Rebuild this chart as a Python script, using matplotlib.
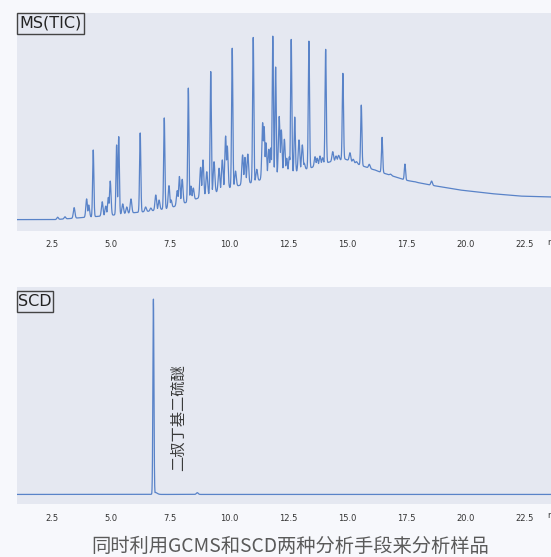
import numpy as np
import matplotlib.pyplot as plt
from matplotlib.patches import Rectangle

plt.rcParams['font.family'] = ['DejaVu Sans', 'Noto Sans CJK SC']

# retention time axis (min)
T_MIN, T_MAX = 1.0, 23.63
xticks = [2.5, 5.0, 7.5, 10.0, 12.5, 15.0, 17.5, 20.0, 22.5]

# MS(TIC) baseline / hump (min, relative intensity)
tic_base_t = [1.00, 2.61, 3.25, 4.09, 4.94, 5.79, 6.64, 7.48, 8.33, 9.18, 10.03,
              10.87, 11.72, 12.57, 13.42, 14.26, 14.90, 15.53, 16.38, 17.44,
              18.50, 19.77, 21.04, 22.31, 23.63]
tic_base_v = [5.1, 5.1, 5.6, 6.3, 7.0, 8.1, 9.0, 10.4, 13.6, 16.9, 19.8,
              21.9, 24.7, 26.5, 28.8, 31.6, 32.9, 30.2, 27.0, 23.3,
              21.0, 18.7, 17.1, 15.9, 15.5]

# main n-alkane peaks: apex time and apex intensity
tic_main_t = [4.23, 5.22, 5.31, 6.22, 7.24, 8.26, 9.21, 10.12, 11.01, 11.84,
              11.96, 12.62, 12.77, 13.37, 14.08, 14.81, 15.59, 16.47, 17.44]
tic_main_v = [37.1, 39.4, 43.2, 44.9, 51.8, 65.5, 73.1, 83.8, 88.8, 89.4,
              75.2, 87.9, 52.2, 87.1, 83.3, 72.3, 57.7, 42.9, 30.6]

# smaller peaks in between
tic_minor_t = [2.72, 3.03, 3.42, 3.95, 4.04, 4.61, 4.76, 4.87, 4.95, 5.48, 5.65,
               5.83, 6.45, 6.67, 6.88, 7.02, 7.44, 7.53, 7.79, 7.88, 8.00, 8.37,
               8.47, 8.78, 8.88, 9.04, 9.35, 9.56, 9.70, 9.84, 9.91, 10.26, 10.56,
               10.66, 10.78, 11.16, 11.41, 11.47, 11.55, 11.67, 11.75, 12.11, 12.20,
               12.33, 12.43, 12.54, 12.95, 13.09, 13.17, 13.63, 13.72, 13.84, 13.95,
               14.38, 14.52, 14.63, 15.11, 15.25, 15.39, 15.93, 16.17, 16.83, 17.86,
               18.57, 19.84]
tic_minor_v = [6.2, 6.4, 10.6, 14.6, 11.8, 13.3, 11.3, 15.3, 22.8, 12.3, 10.9,
               14.6, 10.9, 10.4, 16.4, 14.1, 20.7, 14.1, 18.4, 24.9, 23.6, 20.5,
               19.6, 29.1, 32.5, 27.1, 31.7, 28.7, 32.5, 43.5, 38.9, 27.4, 34.8,
               33.7, 35.2, 28.2, 49.6, 47.8, 40.4, 37.4, 38.0, 52.5, 46.3,
               42.0, 33.3, 34.0, 41.7, 39.4, 31.0, 34.0, 33.3, 34.3, 33.5,
               36.3, 34.3, 34.6, 35.8, 32.8, 31.7, 30.5, 27.9, 26.0, 22.5,
               22.8, 18.4]

# SCD trace
scd_base = 4.4
scd_peak_t = [6.78, 6.86, 8.64]
scd_peak_v = [94.5, 5.3, 5.2]
scd_label = "二叔丁基二硫醚"

caption = "同时利用GCMS和SCD两种分析手段来分析样品"


def trace(t, base_t, base_v, peaks):
    base = np.interp(t, base_t, base_v)
    top = np.zeros_like(t)
    for pt, pv, sig in peaks:
        h = pv - np.interp(pt, base_t, base_v)
        top = np.maximum(top, h * np.exp(-0.5 * ((t - pt) / sig) ** 2))
    return base + top


t = np.arange(T_MIN, T_MAX, 0.003)
tic_peaks = [(a, b, 0.026) for a, b in zip(tic_main_t, tic_main_v)]
tic_peaks += [(a, b, 0.034) for a, b in zip(tic_minor_t, tic_minor_v)]
tic = trace(t, tic_base_t, tic_base_v, tic_peaks)

scd_peaks = [(scd_peak_t[0], scd_peak_v[0], 0.022),
             (scd_peak_t[1], scd_peak_v[1], 0.08),
             (scd_peak_t[2], scd_peak_v[2], 0.04)]
scd = trace(t, [T_MIN, T_MAX], [scd_base, scd_base], scd_peaks)

fig = plt.figure(figsize=(5.51, 5.57), dpi=100, facecolor='#f7f8fc')
ax1 = fig.add_axes([0.0309, 0.5858, 0.9691, 0.3909])
ax2 = fig.add_axes([0.0309, 0.0952, 0.9691, 0.3895])

line_col = '#4a78c4'
for ax, y, name, bw, gap in [(ax1, tic, 'MS(TIC)', 0.1255, 0.0),
                             (ax2, scd, 'SCD', 0.0674, 0.018)]:
    ax.set_facecolor('#e5e8f1')
    ax.plot(t, y, color=line_col, lw=0.9, alpha=0.9)
    ax.set_xlim(T_MIN, T_MAX)
    ax.set_ylim(0, 100)
    ax.set_xticks(xticks)
    ax.set_xticklabels([f"{v:.1f}" for v in xticks])
    ax.set_yticks([])
    ax.tick_params(axis='x', length=0, pad=7, labelsize=6, labelcolor='#333333')
    for s in ax.spines.values():
        s.set_visible(False)
    # panel name box in the upper-left corner
    bh = 0.0965
    ax.add_patch(Rectangle((0.0, 1.0 - gap - bh), bw, bh, transform=ax.transAxes,
                           fc='none', ec='#444444', lw=1.0, clip_on=False, zorder=5))
    ax.text(bw / 2, 1.0 - gap - bh / 2, name, transform=ax.transAxes,
            ha='center', va='center', fontsize=11.5, color='#222222', zorder=6)
    # axis unit, runs off the right edge
    ax.text(23.47, -0.055, "min", transform=ax.get_xaxis_transform(),
            ha='left', va='center', fontsize=6, color='#333333', clip_on=False)

ax2.text(7.82, 40, scd_label, rotation=90, ha='center', va='center',
         fontsize=11, color='#3a3a3a', family=['Noto Sans CJK SC', 'DejaVu Sans'])

fig.text(0.526, 0.018, caption, ha='center', va='center', fontsize=13.9,
         color='#5a5a5a', family=['Noto Sans CJK SC', 'DejaVu Sans'])

fig.savefig("out.png", dpi=100, facecolor=fig.get_facecolor())
